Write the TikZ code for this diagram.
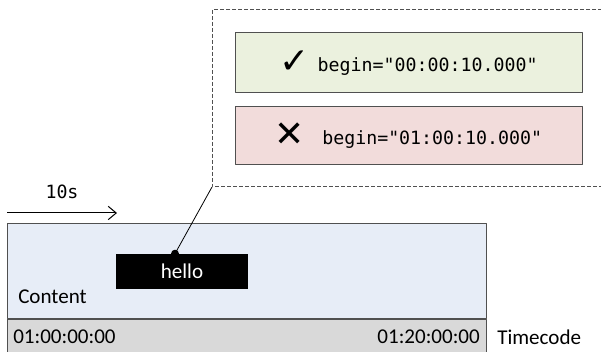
\documentclass[tikz,border=0pt]{standalone}
\usepackage{fontspec}
\setmainfont{Carlito}
\setmonofont{DejaVu Sans Mono}
\newfontfamily\symfont{DejaVu Sans}
\usetikzlibrary{positioning,arrows.meta}
\definecolor{okfill}{HTML}{EBF1DE}
\definecolor{badfill}{HTML}{F2DCDB}
\definecolor{contentfill}{HTML}{E7EDF7}
\definecolor{bandfill}{HTML}{D9D9D9}
\definecolor{boxline}{HTML}{505050}
\newcommand\tcode[1]{{\ttfamily\fontsize{13.7}{16}\selectfont #1}}
\newcommand\tsym[2]{{\symfont\fontsize{#1}{#1}\selectfont #2}}
\begin{document}
\begin{tikzpicture}[x=0.75pt, y=-0.75pt, font=\fontsize{15.8}{19}\selectfont, line join=round, >={Straight Barb[length=6pt,width=10pt]},
  box/.style={draw=boxline, line width=0.75pt, inner sep=0pt},
  callout/.style={draw=boxline, line width=0.75pt, dash pattern=on 3pt off 1.5pt},
  label/.style={inner sep=0pt}]
\useasboundingbox (0,0) rectangle (601,352);
\clip (0,0) rectangle (601,352);
% callout
\draw[callout] (620,10) -| (212,187) coordinate (corner) -- (620,187);
\node[box, fill=okfill, minimum width=260.25pt, minimum height=45pt] (ok) at (408.5,63)
  {\raisebox{-2pt}{\tsym{27}{✓}}\hspace{6pt}\tcode{begin="00:00:10.000"}};
\node[box, fill=badfill, minimum width=260.25pt, minimum height=44pt] (bad) at (408.5,135.5)
  {\raisebox{-2pt}{\tsym{27}{✕}}\hspace{13pt}\tcode{begin="01:00:10.000"}};
% timeline
\node[box, fill=contentfill, minimum width=359.25pt, minimum height=71.25pt] (content) at (246.5,271.5) {};
\node[box, fill=bandfill, minimum width=359.25pt, minimum height=30pt, below=0pt of content] (band) {};
\node[label, anchor=west] (lcontent) at (18,297) {Content};
\node[label, anchor=west] (tstart) at (13,337) {01:00:00:00};
\node[label, anchor=east] (tend) at (480,337) {01:20:00:00};
\node[label, anchor=west] (ltime) at (497,337) {Timecode};
\node[fill=black, text=white, minimum width=99pt, minimum height=26.25pt, inner sep=0pt] (hello) at (182,271.5) {hello};
\coordinate (pin) at ([xshift=-5.25pt]hello.north);
\draw[line width=0.6pt] (pin) -- (corner);
\fill (pin) circle[radius=3pt];
\coordinate (t0) at (7,213);
\coordinate (t1) at (117,213);
\draw[->, line width=0.75pt] (t0) -- (t1) node[midway, above=10pt, label]{\tcode{10s}};
\end{tikzpicture}
\end{document}
